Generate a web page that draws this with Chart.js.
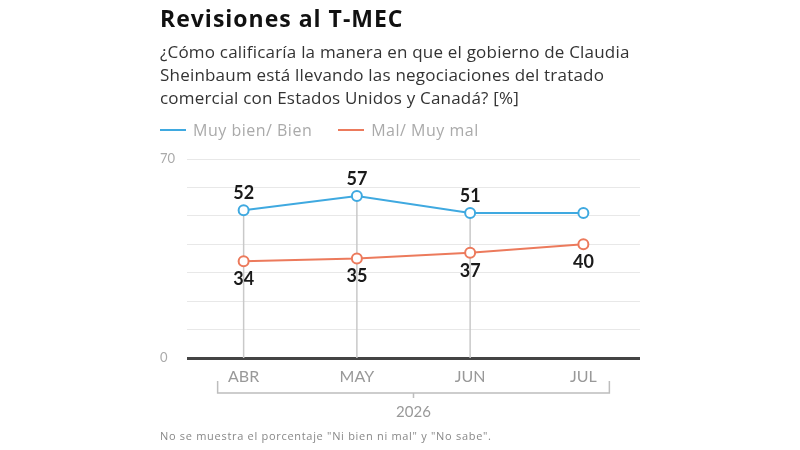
<!DOCTYPE html>
<html lang="es">
<head>
<meta charset="utf-8">
<script src="https://cdn.jsdelivr.net/npm/chart.js@4/dist/chart.umd.min.js"></script>
<style>
  body { margin: 0; background: #fff; font-family: "Open Sans", Lato, sans-serif; }
  #wrap { position: relative; width: 800px; height: 450px; overflow: hidden; }
  #plot { position: absolute; left: 0; top: 0; }
  .txt { position: absolute; left: 160px; white-space: nowrap; }
  #title { top: 2px; font-size: 23px; font-weight: 700; color: #111; letter-spacing: 1px; }
  #subtitle { top: 40px; font-size: 17px; line-height: 23px; color: #333; letter-spacing: 0.2px; }
  #legend { top: 119px; font-size: 16px; color: #aaa; display: flex; align-items: center; letter-spacing: 0.5px; }
  #legend .sw { display: inline-block; width: 26px; height: 2px; margin-right: 7px; }
  #legend .item { display: flex; align-items: center; margin-right: 26px; }
  #note { top: 428px; font-size: 11px; color: #888; letter-spacing: 0.7px; }
</style>
</head>
<body>
<div id="wrap">
  <canvas id="plot" width="800" height="450"></canvas>
  <div class="txt" id="title">Revisiones al T-MEC</div>
  <div class="txt" id="subtitle">¿Cómo calificaría la manera en que el gobierno de Claudia<br>Sheinbaum está llevando las negociaciones del tratado<br>comercial con Estados Unidos y Canadá? [%]</div>
  <div class="txt" id="legend">
    <span class="item"><span class="sw" style="background:#3fa9e0"></span>Muy bien/ Bien</span>
    <span class="item"><span class="sw" style="background:#ec7a5c"></span>Mal/ Muy mal</span>
  </div>
  <div class="txt" id="note">No se muestra el porcentaje "Ni bien ni mal" y "No sabe".</div>
</div>
<script>
const months = ["ABR", "MAY", "JUN", "JUL"];
const yearLabel = "2026";
const goodValues = [52, 57, 51, 51];
const badValues = [34, 35, 37, 40];
const goodLabelShown = [true, true, true, false];
const badLabelShown = [true, true, true, true];
const dropLineShown = [true, true, true, false];
const yTicksShown = [0, 70];

const BLUE = "#3fa9e0";
const RED = "#ec7a5c";

// gray drop lines from the upper point to the base line
const dropLines = {
  id: "dropLines",
  beforeDatasetsDraw(chart) {
    const ctx = chart.ctx;
    const y0 = chart.scales.y.getPixelForValue(0);
    const pts = chart.getDatasetMeta(0).data;
    ctx.save();
    ctx.strokeStyle = "#c9c9c9";
    ctx.lineWidth = 1.5;
    pts.forEach((p, i) => {
      if (!dropLineShown[i]) return;
      ctx.beginPath();
      ctx.moveTo(p.x, p.y);
      ctx.lineTo(p.x, y0);
      ctx.stroke();
    });
    ctx.restore();
  }
};

// value labels: blue above, red below
const valueLabels = {
  id: "valueLabels",
  afterDatasetsDraw(chart) {
    const ctx = chart.ctx;
    ctx.save();
    ctx.font = "bold 18px Lato, sans-serif";
    ctx.fillStyle = "#1a1a1a";
    ctx.textAlign = "center";
    ctx.textBaseline = "middle";
    chart.getDatasetMeta(0).data.forEach((p, i) => {
      if (goodLabelShown[i]) ctx.fillText(goodValues[i], p.x, p.y - 17);
    });
    chart.getDatasetMeta(1).data.forEach((p, i) => {
      if (badLabelShown[i]) ctx.fillText(badValues[i], p.x, p.y + 18);
    });
    ctx.restore();
  }
};

// bracket under the month labels with the year
const yearBracket = {
  id: "yearBracket",
  afterDraw(chart) {
    const ctx = chart.ctx;
    const x = chart.scales.x;
    const base = chart.chartArea.bottom;
    const left = x.getPixelForValue(0) - 26;
    const right = x.getPixelForValue(months.length - 1) + 26;
    const mid = (left + right) / 2;
    const by = base + 35;
    ctx.save();
    ctx.strokeStyle = "#bdbdbd";
    ctx.lineWidth = 1.5;
    ctx.beginPath();
    ctx.moveTo(left, base + 23);
    ctx.lineTo(left, by);
    ctx.lineTo(right, by);
    ctx.lineTo(right, base + 23);
    ctx.moveTo(mid, by);
    ctx.lineTo(mid, by + 5);
    ctx.stroke();
    ctx.font = "15px Lato, sans-serif";
    ctx.fillStyle = "#999";
    ctx.textAlign = "center";
    ctx.textBaseline = "middle";
    ctx.fillText(yearLabel, mid, base + 54);
    ctx.restore();
  }
};

new Chart(document.getElementById("plot"), {
  type: "line",
  data: {
    labels: months,
    datasets: [
      {
        label: "Muy bien/ Bien",
        data: goodValues,
        borderColor: BLUE,
        borderWidth: 2,
        pointRadius: 5,
        pointBorderWidth: 2,
        pointBackgroundColor: "#fff",
        pointBorderColor: BLUE,
        tension: 0
      },
      {
        label: "Mal/ Muy mal",
        data: badValues,
        borderColor: RED,
        borderWidth: 2,
        pointRadius: 5,
        pointBorderWidth: 2,
        pointBackgroundColor: "#fff",
        pointBorderColor: RED,
        tension: 0
      }
    ]
  },
  options: {
    responsive: false,
    animation: false,
    layout: { padding: { left: 160, right: 160, top: 159, bottom: 62 } },
    scales: {
      x: {
        offset: true,
        grid: { display: false, drawTicks: false },
        border: { display: false },
        ticks: { color: "#999", font: { family: "Lato", size: 16 }, padding: 9 },
        afterFit(scale) { scale.height = 30; }
      },
      y: {
        min: 0,
        max: 70,
        border: { display: false },
        grid: {
          drawTicks: false,
          color: ctx => ctx.tick && ctx.tick.value === 0 ? "#444" : "#e8e8e8",
          lineWidth: ctx => ctx.tick && ctx.tick.value === 0 ? 3 : 1
        },
        ticks: {
          stepSize: 10,
          color: "#aaa",
          font: { family: "Lato", size: 13 },
          crossAlign: "far",
          callback: v => yTicksShown.includes(v) ? v : ""
        },
        afterFit(scale) { scale.width = 27; }
      }
    },
    plugins: {
      legend: { display: false },
      tooltip: { enabled: false }
    }
  },
  plugins: [dropLines, valueLabels, yearBracket]
});
</script>
</body>
</html>
